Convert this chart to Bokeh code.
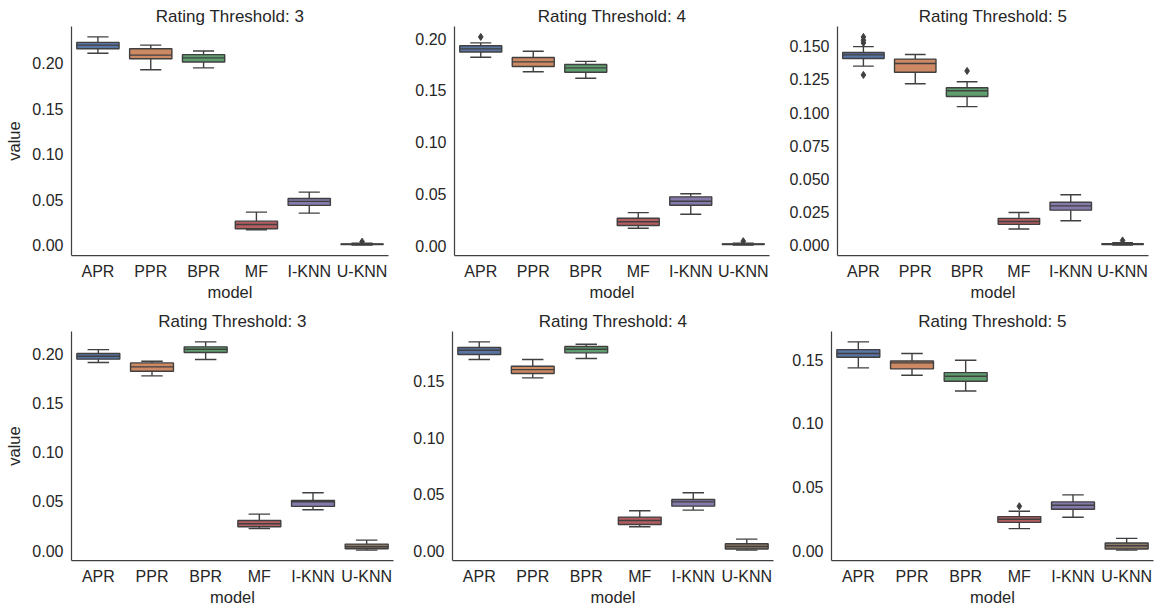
import numpy as np
from bokeh.plotting import figure
from bokeh.layouts import column, row
from bokeh.models import FixedTicker, Range1d, NumeralTickFormatter
from bokeh.embed import file_html
from bokeh.resources import INLINE

MODELS = ["APR", "PPR", "BPR", "MF", "I-KNN", "U-KNN"]
COLORS = ["#5975a4", "#cc8963", "#5f9e6e", "#b55d60", "#857aab", "#8d7866"]
EDGE = "#404040"
TEXT = "#262626"
FONT = "Liberation Sans"

# ---- top row ----
# threshold 3
T3A_LO = [0.211, 0.193, 0.195, 0.0172, 0.0355, 0.0004]
T3A_Q1 = [0.216, 0.205, 0.2015, 0.0183, 0.044, 0.0010]
T3A_MED = [0.220, 0.209, 0.206, 0.023, 0.0484, 0.0013]
T3A_Q3 = [0.223, 0.216, 0.2095, 0.0267, 0.0516, 0.0016]
T3A_HI = [0.229, 0.220, 0.2135, 0.0366, 0.0586, 0.0024]
T3A_OUT_MODEL = ["U-KNN"]
T3A_OUT_VALUE = [0.0042]

# threshold 4
T4A_LO = [0.182, 0.168, 0.1617, 0.0167, 0.0302, 0.0004]
T4A_Q1 = [0.187, 0.173, 0.1675, 0.0193, 0.0389, 0.0010]
T4A_MED = [0.190, 0.1775, 0.1717, 0.023, 0.0428, 0.0013]
T4A_Q3 = [0.193, 0.1817, 0.175, 0.0264, 0.047, 0.0016]
T4A_HI = [0.1958, 0.1878, 0.178, 0.0318, 0.050, 0.0023]
T4A_OUT_MODEL = ["APR", "U-KNN"]
T4A_OUT_VALUE = [0.2016, 0.0042]

# threshold 5
T5A_LO = [0.135, 0.1217, 0.1045, 0.0124, 0.0186, 0.0003]
T5A_Q1 = [0.1408, 0.1304, 0.1122, 0.0159, 0.0266, 0.0008]
T5A_MED = [0.1435, 0.137, 0.1165, 0.0181, 0.0298, 0.0011]
T5A_Q3 = [0.1453, 0.1403, 0.1187, 0.0204, 0.0325, 0.0014]
T5A_HI = [0.1497, 0.1438, 0.1232, 0.0248, 0.0382, 0.0021]
T5A_OUT_MODEL = ["APR", "APR", "APR", "APR", "BPR", "U-KNN"]
T5A_OUT_VALUE = [0.157, 0.1545, 0.1525, 0.1284, 0.1314, 0.0038]

# ---- bottom row ----
T3B_LO = [0.1909, 0.1774, 0.194, 0.0226, 0.0416, 0.0007]
T3B_Q1 = [0.1943, 0.182, 0.201, 0.0243, 0.045, 0.002]
T3B_MED = [0.1973, 0.1865, 0.2044, 0.0274, 0.0497, 0.0041]
T3B_Q3 = [0.200, 0.1905, 0.2068, 0.0307, 0.051, 0.0068]
T3B_HI = [0.204, 0.1922, 0.2118, 0.0372, 0.0588, 0.0108]
T3B_OUT_MODEL = []
T3B_OUT_VALUE = []

T4B_LO = [0.1692, 0.153, 0.1701, 0.0212, 0.036, 0.0006]
T4B_Q1 = [0.1736, 0.1568, 0.1751, 0.0233, 0.0395, 0.0015]
T4B_MED = [0.1774, 0.1603, 0.1783, 0.0268, 0.0433, 0.0038]
T4B_Q3 = [0.1798, 0.1633, 0.1807, 0.0298, 0.0454, 0.0062]
T4B_HI = [0.1848, 0.1692, 0.1827, 0.0354, 0.0513, 0.0103]
T4B_OUT_MODEL = []
T4B_OUT_VALUE = []

T5B_LO = [0.1435, 0.1377, 0.1254, 0.0178, 0.0267, 0.001]
T5B_Q1 = [0.1518, 0.1427, 0.133, 0.0227, 0.0329, 0.0018]
T5B_MED = [0.1547, 0.1474, 0.1369, 0.0251, 0.0361, 0.0044]
T5B_Q3 = [0.1578, 0.1489, 0.1398, 0.0272, 0.0387, 0.0065]
T5B_HI = [0.1638, 0.1547, 0.1495, 0.0314, 0.0442, 0.0102]
T5B_OUT_MODEL = ["MF"]
T5B_OUT_VALUE = [0.0353]

TICKS_2 = [0.0, 0.05, 0.10, 0.15, 0.20]
TICKS_3 = [0.0, 0.025, 0.05, 0.075, 0.10, 0.125, 0.15]


def boxpanel(title, lo, q1, med, q3, hi, out_m, out_v, ticks, fmt, ylabel,
             fw, fh, left, right, top, bottom):
    x = np.arange(len(MODELS))
    allv = lo + hi + list(out_v)
    vmin, vmax = min(allv), max(allv)
    pad = 0.05 * (vmax - vmin)
    p = figure(frame_width=fw, frame_height=fh, output_backend="svg",
               toolbar_location=None, x_range=Range1d(-0.5, len(MODELS) - 0.5),
               y_range=Range1d(vmin - pad, vmax + pad),
               min_border_left=left, min_border_right=right,
               min_border_top=top, min_border_bottom=bottom)
    p.title.text = title
    p.title.align = "center"
    p.title.text_font = FONT
    p.title.text_font_size = "17px"
    p.title.text_font_style = "normal"
    p.title.text_color = TEXT
    p.title.standoff = 2
    p.title.offset = 0
    p.outline_line_color = None
    p.grid.visible = False
    p.background_fill_color = "white"
    p.border_fill_color = "white"

    bw = 0.8
    cw = 0.4
    lw = 1.4
    # whiskers
    p.segment(x0=x, y0=q3, x1=x, y1=hi, line_color=EDGE, line_width=lw)
    p.segment(x0=x, y0=lo, x1=x, y1=q1, line_color=EDGE, line_width=lw)
    # caps
    p.segment(x0=x - cw / 2, y0=hi, x1=x + cw / 2, y1=hi, line_color=EDGE, line_width=lw)
    p.segment(x0=x - cw / 2, y0=lo, x1=x + cw / 2, y1=lo, line_color=EDGE, line_width=lw)
    # boxes
    p.vbar(x=x, width=bw, bottom=q1, top=q3, fill_color=COLORS,
           line_color=EDGE, line_width=lw)
    # medians
    p.segment(x0=x - bw / 2, y0=med, x1=x + bw / 2, y1=med, line_color=EDGE, line_width=lw)
    # outliers
    if out_m:
        ox = [MODELS.index(m) for m in out_m]
        p.scatter(x=ox, y=out_v, marker="diamond", size=7,
                  fill_color=EDGE, line_color=EDGE)

    p.xaxis.ticker = FixedTicker(ticks=list(range(len(MODELS))))
    p.xaxis.major_label_overrides = {i: m for i, m in enumerate(MODELS)}
    p.yaxis.ticker = FixedTicker(ticks=ticks)
    p.yaxis.formatter = NumeralTickFormatter(format=fmt)
    p.xaxis.axis_label = "model"
    if ylabel:
        p.yaxis.axis_label = "value"
    for ax in (p.xaxis[0], p.yaxis[0]):
        ax.axis_line_color = EDGE
        ax.axis_line_width = 1.25
        ax.major_tick_line_color = None
        ax.minor_tick_line_color = None
        ax.major_tick_out = 0
        ax.major_tick_in = 0
        ax.minor_tick_out = 0
        ax.minor_tick_in = 0
        ax.major_label_text_font = FONT
        ax.major_label_text_font_size = "16px"
        ax.major_label_text_color = TEXT
        ax.axis_label_text_font = FONT
        ax.axis_label_text_font_size = "16.5px"
        ax.axis_label_text_font_style = "normal"
        ax.axis_label_text_color = TEXT
    p.xaxis.major_label_standoff = 7
    p.xaxis.axis_label_standoff = 0
    p.yaxis.major_label_standoff = 8
    p.yaxis.axis_label_standoff = 6
    return p


f1 = boxpanel("Rating Threshold: 3", T3A_LO, T3A_Q1, T3A_MED, T3A_Q3, T3A_HI,
              T3A_OUT_MODEL, T3A_OUT_VALUE, TICKS_2, "0.00", True,
              317, 229, 71, 2, 26, 48)
f2 = boxpanel("Rating Threshold: 4", T4A_LO, T4A_Q1, T4A_MED, T4A_Q3, T4A_HI,
              T4A_OUT_MODEL, T4A_OUT_VALUE, TICKS_2, "0.00", False,
              315, 229, 64, 2, 26, 48)
f3 = boxpanel("Rating Threshold: 5", T5A_LO, T5A_Q1, T5A_MED, T5A_Q3, T5A_HI,
              T5A_OUT_MODEL, T5A_OUT_VALUE, TICKS_3, "0.000", False,
              311, 229, 66, 7, 26, 48)
f4 = boxpanel("Rating Threshold: 3", T3B_LO, T3B_Q1, T3B_MED, T3B_Q3, T3B_HI,
              T3B_OUT_MODEL, T3B_OUT_VALUE, TICKS_2, "0.00", True,
              322, 229, 71, 2, 28, 46)
f5 = boxpanel("Rating Threshold: 4", T4B_LO, T4B_Q1, T4B_MED, T4B_Q3, T4B_HI,
              T4B_OUT_MODEL, T4B_OUT_VALUE, TICKS_2[:4], "0.00", False,
              321, 229, 57, 2, 28, 46)
f6 = boxpanel("Rating Threshold: 5", T5B_LO, T5B_Q1, T5B_MED, T5B_Q3, T5B_HI,
              T5B_OUT_MODEL, T5B_OUT_VALUE, TICKS_2[:4], "0.00", False,
              322, 229, 56, 2, 28, 46)

layout = column(row(f1, f2, f3, spacing=0), row(f4, f5, f6, spacing=0), spacing=0)

open("out.html", "w").write(file_html(layout, INLINE))
